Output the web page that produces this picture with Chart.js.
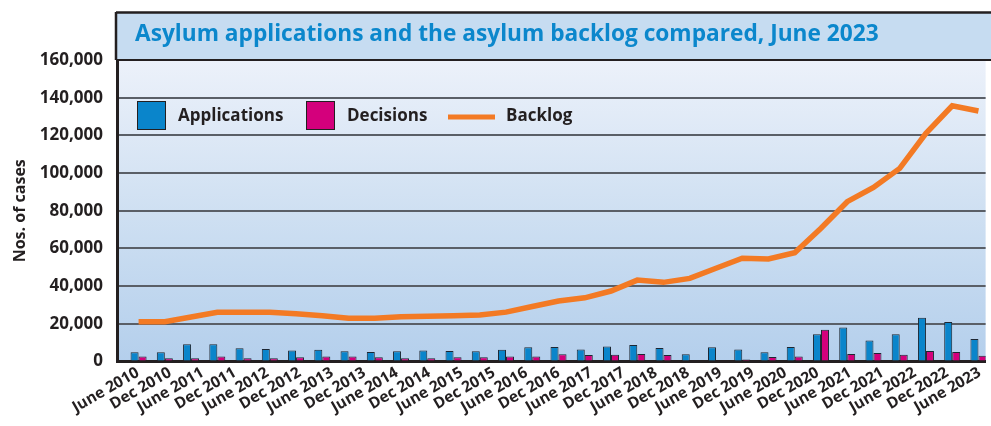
<!DOCTYPE html>
<html><head><meta charset="utf-8">
<script src="https://cdn.jsdelivr.net/npm/chart.js@4"></script>
<style>html,body{margin:0;padding:0;background:#fff;overflow:hidden}canvas{display:block}</style>
</head><body>
<canvas id="c" width="991" height="426"></canvas>
<script>
const chartTitle = 'Asylum applications and the asylum backlog compared, June 2023';
const yAxisTitle = 'Nos. of cases';
const tickLabels = ['June 2010','Dec 2010','June 2011','Dec 2011','June 2012','Dec 2012','June 2013','Dec 2013',
  'June 2014','Dec 2014','June 2015','Dec 2015','June 2016','Dec 2016','June 2017','Dec 2017','June 2018','Dec 2018',
  'June 2019','Dec 2019','June 2020','Dec 2020','June 2021','Dec 2021','June 2022','Dec 2022','June 2023'];
const applications = [4900,4900,9100,9100,7000,6600,5900,6300,5400,5000,5400,5900,5600,5400,6300,7500,7700,
  6400,8000,8700,7200,3800,7500,6400,4900,7700,14400,18100,11200,14400,23200,20900,11900];
const decisions = [2700,1700,1700,2700,1700,1700,2200,2700,2700,2200,1700,1700,2200,2200,2700,2700,3800,
  3400,3600,4000,3400,0,0,1000,2400,2600,16900,4000,4500,3600,5600,5000,3100];
const backlog = [21100,21100,23600,26100,26100,26100,25300,24300,22900,22900,23800,24000,24300,24700,26200,
  29200,32100,33800,37400,43200,42000,44100,49500,54800,54400,57700,70700,84800,92400,102500,121100,135700,132900];
const yMax = 160000, yStep = 20000;

const FONT = "'Open Sans', 'DejaVu Sans', sans-serif";
const TXT = '#231f20';

const framePlugin = {
  id: 'frame',
  beforeDraw(chart) {
    const {ctx, chartArea: a} = chart;
    ctx.save();
    ctx.fillStyle = '#fff';
    ctx.fillRect(0, 0, chart.width, chart.height);
    ctx.fillStyle = '#c6dcf1';
    ctx.fillRect(a.left, 12, chart.width - a.left, a.top - 12);
    const g = ctx.createLinearGradient(0, a.top, 0, a.bottom);
    g.addColorStop(0, '#ecf1fa');
    g.addColorStop(0.5, '#cfe0f2');
    g.addColorStop(1, '#b4cfec');
    ctx.fillStyle = g;
    ctx.fillRect(a.left, a.top, a.right - a.left, a.bottom - a.top);
    ctx.restore();
  },
  afterDraw(chart) {
    const {ctx, chartArea: a} = chart;
    ctx.save();
    ctx.strokeStyle = '#231f20';
    ctx.lineWidth = 2.5;
    ctx.beginPath();
    ctx.moveTo(a.left - 1, 12.5); ctx.lineTo(chart.width, 12.5);
    ctx.moveTo(a.left - 1, 12); ctx.lineTo(a.left - 1, a.top);
    ctx.stroke();
    ctx.lineWidth = 2;
    ctx.beginPath();
    ctx.moveTo(a.left, a.top); ctx.lineTo(chart.width, a.top);
    ctx.stroke();
    ctx.fillStyle = '#0b87cc';
    ctx.font = "bold 22.7px " + FONT;
    ctx.textBaseline = 'middle';
    ctx.textAlign = 'left';
    ctx.fillText(chartTitle, 135, 35);
    const ds = chart.data.datasets;
    const ly = 115;
    ctx.font = "bold 17px " + FONT;
    const items = [
      {i: 0, x: 137, tx: 178},
      {i: 1, x: 306, tx: 347},
      {i: 2, x: 448, tx: 506}
    ];
    items.forEach(it => {
      const d = ds[it.i];
      if (d.type === 'line') {
        ctx.strokeStyle = d.borderColor;
        ctx.lineWidth = 5;
        ctx.beginPath();
        ctx.moveTo(it.x, ly + 2); ctx.lineTo(it.x + 47, ly + 2);
        ctx.stroke();
      } else {
        ctx.fillStyle = d.backgroundColor;
        ctx.fillRect(it.x, ly - 14, 29, 29);
        ctx.strokeStyle = '#231f20';
        ctx.lineWidth = 1;
        ctx.strokeRect(it.x + 0.5, ly - 13.5, 28, 28);
      }
      ctx.fillStyle = TXT;
      ctx.fillText(d.label, it.tx, ly + 1);
    });
    ctx.restore();
  }
};

const ctx = document.getElementById('c').getContext('2d');
new Chart(ctx, {
  type: 'bar',
  data: {
    datasets: [
      {label: 'Applications', data: applications.map((v, i) => ({x: i, y: v})),
       backgroundColor: '#0a85cb', borderColor: '#1d2733', borderWidth: 1, order: 2,
       categoryPercentage: 0.61, barPercentage: 1},
      {label: 'Decisions', data: decisions.map((v, i) => ({x: i, y: v})),
       backgroundColor: '#d4007c', borderColor: '#1d2733', borderWidth: 1, order: 2,
       categoryPercentage: 0.61, barPercentage: 1},
      {type: 'line', label: 'Backlog', data: backlog.map((v, i) => ({x: i, y: v})),
       borderColor: '#f37a24', borderWidth: 5.5, pointRadius: 0, tension: 0, order: 0,
       borderJoinStyle: 'miter', borderCapStyle: 'butt'}
    ]
  },
  options: {
    responsive: false, animation: false, devicePixelRatio: 1,
    layout: {padding: {top: 60, right: 0, bottom: 0, left: 0}},
    plugins: {legend: {display: false}, tooltip: {enabled: false}, title: {display: false}},
    scales: {
      x: {type: 'linear', display: false, min: -0.822, max: 32.273, offset: false, grid: {offset: false},
          afterBuildTicks: s => { s.ticks = applications.map((_, i) => ({value: i})); }},
      x2: {type: 'linear', position: 'bottom', min: -0.645, max: 26.184, offset: false,
           grid: {display: false, drawTicks: false},
           border: {display: true, color: '#231f20', width: 3},
           ticks: {autoSkip: false, maxRotation: 30, minRotation: 30, padding: 2,
                   font: {family: FONT, weight: 'bold', size: 15.5}, color: TXT,
                   callback: v => tickLabels[v]},
           afterBuildTicks: s => { s.ticks = tickLabels.map((_, i) => ({value: i})); },
           afterFit: s => { s.height = 64.5; }},
      y: {min: 0, max: yMax,
          ticks: {stepSize: yStep, padding: 14, color: TXT,
                  font: {family: FONT, weight: 'bold', size: 17},
                  callback: v => v.toLocaleString('en-US')},
          grid: {color: '#5a5f67', lineWidth: 2, drawTicks: false},
          border: {color: '#231f20', width: 3},
          title: {display: true, text: yAxisTitle, color: TXT, padding: {top: 11, bottom: 0},
                  font: {family: FONT, weight: 'bold', size: 16}},
          afterFit: s => { s.width = 117; }}
    }
  },
  plugins: [framePlugin]
});
</script>
</body></html>
